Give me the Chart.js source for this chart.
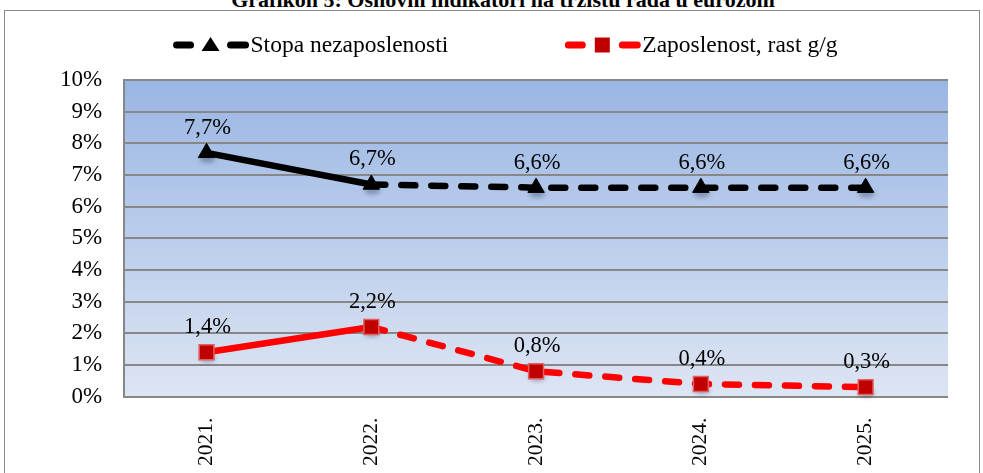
<!DOCTYPE html>
<html>
<head>
<meta charset="utf-8">
<script src="https://cdn.jsdelivr.net/npm/chart.js@4.4.1/dist/chart.umd.min.js"></script>
<style>
  html, body { margin: 0; padding: 0; background: #fff; overflow: hidden; }
  body { width: 983px; height: 473px; position: relative; }
  #title {
    position: absolute; left: 0; width: 1006px; top: -11px;
    text-align: center; font: bold 22px "Liberation Serif", "Times New Roman", serif;
    line-height: 21px; color: #000; white-space: nowrap;
  }
  #frame {
    position: absolute; left: 4px; top: 10px; width: 974px; height: 500px;
    border: 1.5px solid #8a8a8a;
  }
  #wrap { position: absolute; left: 5px; top: 11px; width: 974px; height: 470px; }
</style>
</head>
<body>
<div id="title">Grafikon 5: Osnovni indikatori na tržištu rada u eurozoni</div>
<div id="frame"></div>
<div id="wrap"><canvas id="myChart"></canvas></div>
<script>
// data
const years = ["2021.", "2022.", "2023.", "2024.", "2025."];
const unemployment = [7.7, 6.7, 6.6, 6.6, 6.6];
const employmentGrowth = [1.4, 2.2, 0.8, 0.4, 0.3];
const seriesNames = ["Stopa nezaposlenosti", "Zaposlenost, rast g/g"];

const FONT = '"Liberation Serif", "Times New Roman", serif';

// dashed from the 2nd point onwards (forecast)
const dashAfterFirst = (ctx) => (ctx.p0DataIndex >= 1 ? [14, 16] : []);

const fmt = (v) => v.toFixed(1).replace(".", ",") + "%";

// blue gradient behind the plot
const plotBackground = {
  id: "plotBackground",
  beforeDraw(chart) {
    const { ctx, chartArea: a } = chart;
    const g = ctx.createLinearGradient(0, a.top, 0, a.bottom);
    g.addColorStop(0, "rgb(154,182,228)");
    g.addColorStop(1, "rgb(221,229,243)");
    ctx.save();
    ctx.fillStyle = g;
    ctx.fillRect(a.left, a.top, a.right - a.left, a.bottom - a.top);
    ctx.restore();
  },
};

// soft shadow under the markers
const markerShadow = {
  id: "markerShadow",
  beforeDatasetsDraw(chart) {
    const { ctx } = chart;
    ctx.save();
    ctx.fillStyle = "rgba(40,50,80,0.35)";
    ctx.filter = "blur(2px)";
    chart.data.datasets.forEach((ds, i) => {
      chart.getDatasetMeta(i).data.forEach((pt) => {
        ctx.beginPath();
        ctx.ellipse(pt.x + 1, pt.y + 6, 8, 4, 0, 0, Math.PI * 2);
        ctx.fill();
      });
    });
    ctx.restore();
  },
};

// value labels above each point
const valueLabels = {
  id: "valueLabels",
  afterDatasetsDraw(chart) {
    const { ctx } = chart;
    ctx.save();
    ctx.font = "22.5px " + FONT;
    ctx.fillStyle = "#000";
    ctx.textAlign = "center";
    ctx.textBaseline = "middle";
    chart.data.datasets.forEach((ds, i) => {
      chart.getDatasetMeta(i).data.forEach((pt, j) => {
        ctx.fillText(fmt(ds.data[j]), pt.x + 1, pt.y - 25);
      });
    });
    ctx.restore();
  },
};

// legend: short dashed line with marker, then the name
const lineLegend = {
  id: "lineLegend",
  afterDraw(chart) {
    const { ctx } = chart;
    const y = 34;
    const symW = 77;
    ctx.save();
    ctx.font = "23.5px " + FONT;
    const items = chart.data.datasets.map((ds) => ({
      ds,
      w: symW + 1 + ctx.measureText(ds.label).width,
    }));
    const gap = 116;
    const total = items.reduce((s, it) => s + it.w, 0) + gap;
    let x = chart.width / 2 + 13 - total / 2;
    items.forEach((it) => {
      const ds = it.ds;
      ctx.strokeStyle = ds.borderColor;
      ctx.lineWidth = 7;
      ctx.lineCap = "round";
      ctx.beginPath();
      ctx.moveTo(x + 4, y); ctx.lineTo(x + 18, y);
      ctx.moveTo(x + 58, y); ctx.lineTo(x + 73, y);
      ctx.stroke();
      const cx = x + 38;
      ctx.fillStyle = ds.pointBackgroundColor;
      ctx.beginPath();
      if (ds.pointStyle === "triangle") {
        ctx.moveTo(cx, y - 8); ctx.lineTo(cx + 9, y + 6); ctx.lineTo(cx - 9, y + 6);
        ctx.closePath();
        ctx.fill();
      } else {
        ctx.rect(cx - 7.5, y - 7.5, 15, 15);
        ctx.fill();
      }
      ctx.fillStyle = "#000";
      ctx.textBaseline = "middle";
      ctx.fillText(ds.label, x + symW + 1, y + 1);
      x += it.w + gap;
    });
    ctx.restore();
  },
};

const ctx = document.getElementById("myChart").getContext("2d");

new Chart(ctx, {
  type: "line",
  data: {
    labels: years,
    datasets: [
      {
        label: seriesNames[0],
        data: unemployment,
        borderColor: "#000000",
        borderWidth: 6.5,
        borderCapStyle: "round",
        pointStyle: "triangle",
        pointRadius: 9.5,
        pointBackgroundColor: "#000000",
        pointBorderColor: "#000000",
        pointBorderWidth: 1,
        segment: { borderDash: dashAfterFirst },
      },
      {
        label: seriesNames[1],
        data: employmentGrowth,
        borderColor: "#ff0000",
        borderWidth: 6.5,
        borderCapStyle: "round",
        pointStyle: "rect",
        pointRadius: 10.5,
        pointBackgroundColor: "#c00000",
        pointBorderColor: "#e06060",
        pointBorderWidth: 1.5,
        segment: { borderDash: dashAfterFirst },
      },
    ],
  },
  options: {
    responsive: true,
    maintainAspectRatio: false,
    animation: false,
    layout: { padding: { top: 69, left: 33, right: 31, bottom: 2 } },
    plugins: {
      legend: { display: false },
      tooltip: { enabled: false },
    },
    scales: {
      x: {
        offset: true,
        grid: { display: false },
        border: { display: false },
        ticks: {
          color: "#000",
          font: { family: FONT, size: 21.5 },
          minRotation: 90,
          maxRotation: 90,
          padding: 13,
        },
      },
      y: {
        min: 0,
        max: 10,
        grid: { color: "#878787", lineWidth: 2, drawTicks: false },
        border: { display: true, color: "#878787", width: 2 },
        ticks: {
          stepSize: 1,
          color: "#000",
          font: { family: FONT, size: 23 },
          padding: 22,
          callback: (v) => v + "%",
        },
      },
    },
  },
  plugins: [plotBackground, markerShadow, valueLabels, lineLegend],
});
</script>
</body>
</html>
